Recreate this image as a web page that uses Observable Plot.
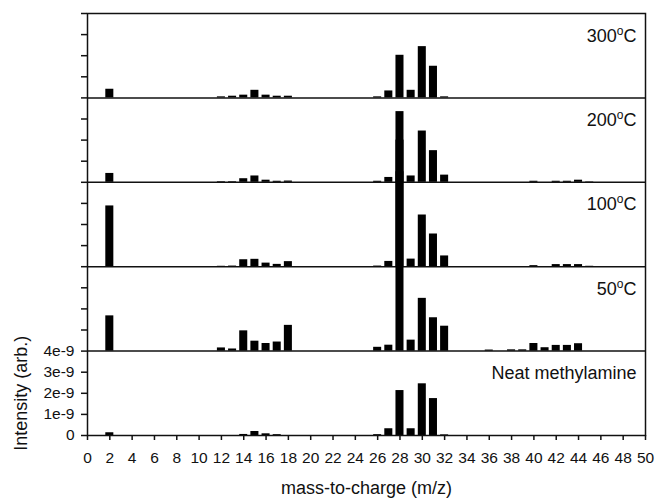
<!DOCTYPE html>
<html>
<head>
<meta charset="utf-8">
<script src="https://cdn.jsdelivr.net/npm/d3@7"></script>
<script src="https://cdn.jsdelivr.net/npm/@observablehq/plot@0.6"></script>
<style>
  html, body { margin: 0; padding: 0; background: #fff; }
  #chart svg { display: block; overflow: visible; }
</style>
</head>
<body>
<div id="chart"></div>
<script>
// mass-to-charge values (m/z) that carry a bar
const massToCharge = [2, 12, 13, 14, 15, 16, 17, 18, 26, 27, 28, 29, 30, 31, 32, 36, 38, 39, 40, 41, 42, 43, 44, 45];

// intensities, in units of 1e-9 (arb.)
const neat = [0.13, 0, 0, 0.05, 0.19, 0.08, 0.04, 0, 0.04, 0.32, 2.13, 0.32, 2.45, 1.75, 0.03, 0, 0, 0, 0, 0, 0, 0, 0, 0];
const t50  = [1.67, 0.15, 0.10, 0.96, 0.47, 0.36, 0.43, 1.22, 0.18, 0.28, 8.5, 0.52, 2.50, 1.58, 1.18, 0.05, 0.06, 0.06, 0.36, 0.16, 0.27, 0.27, 0.35, 0];
const t100 = [2.88, 0.02, 0.03, 0.33, 0.35, 0.17, 0.11, 0.24, 0.03, 0.25, 6.0, 0.36, 2.45, 1.55, 0.51, 0, 0, 0, 0.05, 0, 0.10, 0.10, 0.10, 0.02];
const t200 = [0.42, 0.03, 0.03, 0.17, 0.30, 0.10, 0.05, 0.06, 0.05, 0.23, 3.35, 0.30, 2.43, 1.50, 0.34, 0, 0, 0, 0.05, 0, 0.05, 0.05, 0.10, 0.02];
const t300 = [0.41, 0.05, 0.08, 0.13, 0.36, 0.13, 0.08, 0.08, 0.05, 0.33, 2.02, 0.36, 2.43, 1.50, 0.05, 0, 0, 0, 0, 0, 0, 0, 0, 0];

// panels stacked from bottom to top
const panelLabels = ["Neat methylamine", "50°C", "100°C", "200°C", "300°C"];
const panelSeries = [neat, t50, t100, t200, t300];
const panelSpan = 4; // each panel spans 4e-9

// tick labels
const xTicks = d3.range(0, 51, 2);
const yTickLabels = ["0", "1e-9", "2e-9", "3e-9", "4e-9"];
const xTitle = "mass-to-charge (m/z)";
const yTitle = "Intensity (arb.)";

const bars = [];
panelSeries.forEach((series, p) => {
  series.forEach((v, i) => {
    if (v > 0) bars.push({mz: massToCharge[i], base: p * panelSpan, v});
  });
});
const panels = panelLabels.map((label, p) => ({label, base: p * panelSpan}));
const dividers = d3.range(1, panelLabels.length).map(p => p * panelSpan);
const yTicks = d3.range(0, panelLabels.length * panelSpan + 1);

const font = '"Liberation Sans", Arial, Helvetica, sans-serif';
const ink = "#111";
const halfBar = 0.36;

const chart = Plot.plot({
  width: 655,
  height: 499,
  marginLeft: 87,
  marginRight: 10,
  marginTop: 13,
  marginBottom: 64,
  style: {fontFamily: font, fontSize: "15.5px", color: ink, background: "#fff"},
  x: {domain: [0, 50]},
  y: {domain: [0, panelLabels.length * panelSpan]},
  marks: [
    Plot.ruleY(dividers, {stroke: ink, strokeWidth: 1.5}),
    Plot.rect(bars, {
      x1: d => d.mz - halfBar,
      x2: d => d.mz + halfBar,
      y1: d => d.base,
      y2: d => d.base + d.v,
      fill: "#000",
      inset: 0
    }),
    Plot.frame({stroke: ink, strokeWidth: 1.5}),
    Plot.axisX({
      ticks: xTicks,
      tickSize: 5,
      tickPadding: 11,
      strokeWidth: 1.5,
      label: null,
      tickFormat: d => String(d)
    }),
    Plot.axisY({
      ticks: yTicks,
      tickSize: 6,
      tickPadding: 7,
      strokeWidth: 1.5,
      label: null,
      tickFormat: d => (d < yTickLabels.length ? yTickLabels[d] : "")
    }),
    Plot.text(panels, {
      x: () => 50,
      y: d => d.base + panelSpan - 1.33,
      text: d => d.label,
      textAnchor: "end",
      lineAnchor: "bottom",
      dx: -9,
      fontSize: 18,
      fill: ink
    }),
    Plot.text([xTitle], {
      frameAnchor: "bottom",
      text: d => d,
      lineAnchor: "bottom",
      dy: 58,
      fontSize: 18,
      fill: ink
    }),
    Plot.text([yTitle], {
      frameAnchor: "left",
      y: () => 2,
      text: d => d,
      rotate: -90,
      textAnchor: "middle",
      lineAnchor: "middle",
      dx: -66,
      fontSize: 18,
      fill: ink
    })
  ]
});

// render the temperature labels with a superscript "o"
d3.select(chart).selectAll("text").each(function () {
  const t = this.textContent;
  const m = t.match(/^(\d+)°C$/);
  if (!m) return;
  const sel = d3.select(this);
  sel.text(null);
  sel.append("tspan").text(m[1]);
  sel.append("tspan").attr("dy", -7).attr("font-size", 12).text("o");
  sel.append("tspan").attr("dy", 7).text("C");
});

document.getElementById("chart").appendChild(chart);
</script>
</body>
</html>
